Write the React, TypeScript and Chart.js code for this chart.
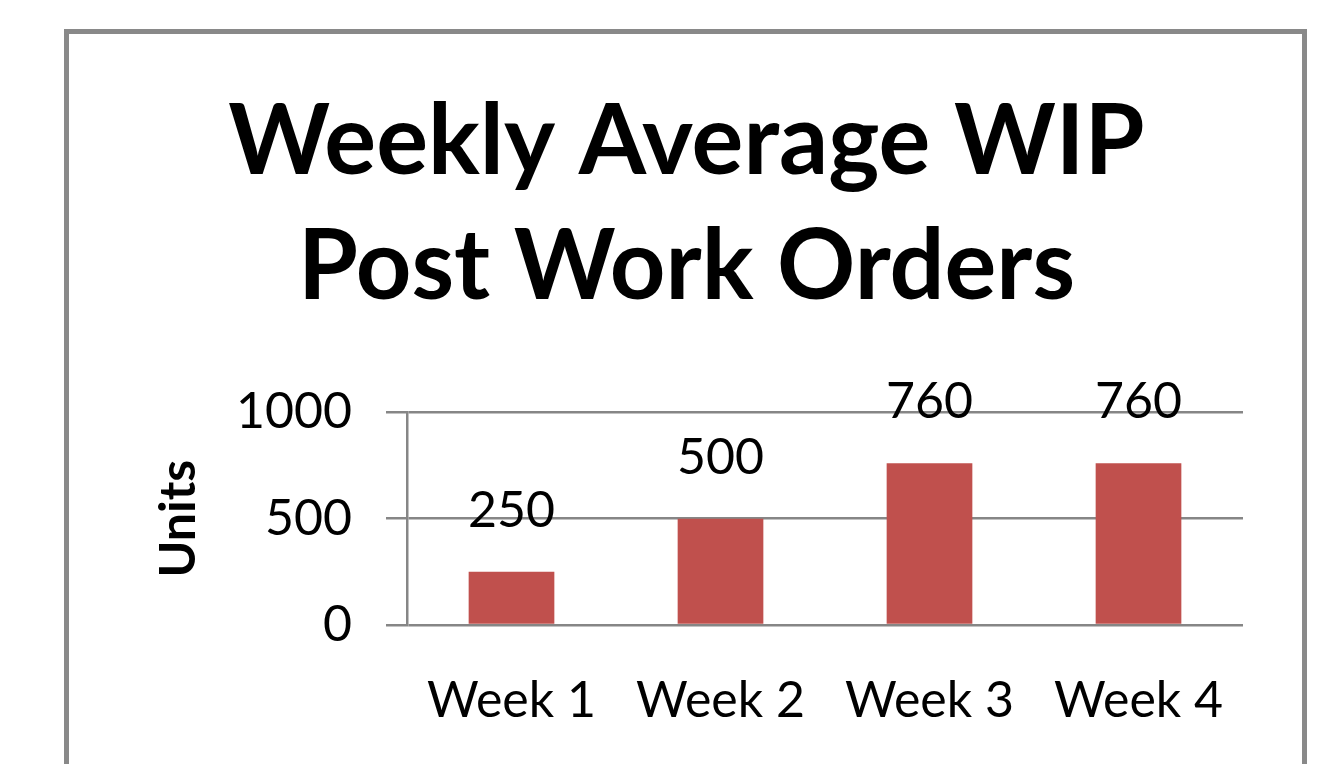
import React, { useEffect, useRef } from "react";
import { Chart, registerables } from "chart.js";

Chart.register(...registerables);

const categories = ["Week 1", "Week 2", "Week 3", "Week 4"];
const wipValues = [250, 500, 760, 760];
const valueLabels = ["250", "500", "760", "760"];
const titleLines = ["Weekly Average WIP", "Post Work Orders"];
const yTickValues = [0, 500, 1000];

const FONT = "Lato, 'Open Sans', sans-serif";
const GRID = "#868686";

const frameBox = {
  id: "frameBox",
  beforeDraw(chart: any) {
    const ctx = chart.ctx;
    ctx.save();
    ctx.fillStyle = "#ffffff";
    ctx.fillRect(0, 0, chart.width, chart.height);
    ctx.strokeStyle = "#898989";
    ctx.lineWidth = 5;
    ctx.strokeRect(66.5, 31.5, 1238, 800);
    ctx.restore();
  },
};

const valueLabelPlugin = {
  id: "valueLabels",
  afterDatasetsDraw(chart: any) {
    const ctx = chart.ctx;
    const meta = chart.getDatasetMeta(0);
    ctx.save();
    ctx.font = `50px ${FONT}`;
    ctx.fillStyle = "#000000";
    ctx.textAlign = "center";
    ctx.textBaseline = "middle";
    meta.data.forEach((bar: any, i: number) => {
      ctx.fillText(valueLabels[i], bar.x, bar.y - 61);
    });
    ctx.restore();
  },
};

export default function App() {
  const ref = useRef<HTMLCanvasElement>(null);

  useEffect(() => {
    if (!ref.current) return;
    const chart = new Chart(ref.current, {
      type: "bar",
      data: {
        labels: categories,
        datasets: [
          {
            data: wipValues,
            backgroundColor: "#C0504D",
            borderWidth: 0,
            barPercentage: 0.41,
            categoryPercentage: 1,
          },
        ],
      },
      plugins: [frameBox, valueLabelPlugin],
      options: {
        animation: false,
        responsive: false,
        devicePixelRatio: 1,
        layout: { padding: { top: 40, left: 130, right: 84, bottom: 0 } },
        plugins: {
          legend: { display: false },
          tooltip: { enabled: false },
          title: {
            display: true,
            text: titleLines,
            color: "#000000",
            font: { family: FONT, size: 97, weight: "bold", lineHeight: 1.29 },
            padding: { top: 40, bottom: 82 },
          },
        },
        scales: {
          x: {
            grid: { display: false, drawTicks: false },
            border: { display: false },
            ticks: {
              color: "#000000",
              font: { family: FONT, size: 50 },
              padding: 46,
            },
            afterFit: (s: any) => {
              s.height = 139;
            },
          },
          y: {
            min: 0,
            max: 1000,
            afterBuildTicks: (s: any) => {
              s.ticks = yTickValues.map((v) => ({ value: v }));
            },
            grid: { color: GRID, lineWidth: 2.5, tickLength: 21, drawTicks: true },
            border: { display: true, color: GRID, width: 2.5 },
            ticks: {
              color: "#000000",
              font: { family: FONT, size: 50 },
              padding: 34,
              callback: (v: any) => String(v),
            },
            title: {
              display: true,
              text: "Units",
              color: "#000000",
              font: { family: FONT, size: 50, weight: "bold", lineHeight: 1.2 },
              padding: { top: 19, bottom: 0 },
            },
            afterFit: (s: any) => {
              s.width = 277;
            },
          },
        },
      },
    });
    return () => chart.destroy();
  }, []);

  return (
    <div style={{ position: "absolute", left: 0, top: 0, width: 1327, height: 764, background: "#fff" }}>
      <canvas ref={ref} width={1327} height={764} style={{ display: "block" }} />
    </div>
  );
}
